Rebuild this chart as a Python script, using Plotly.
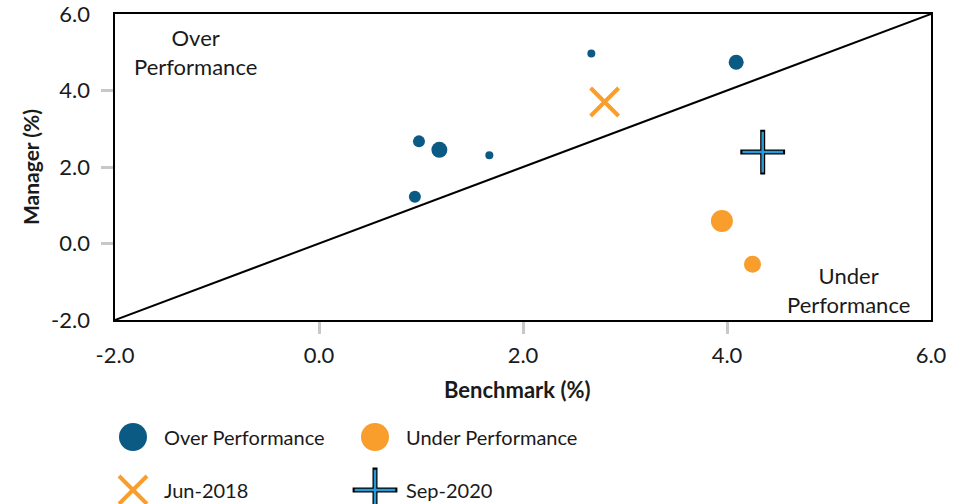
import plotly.graph_objects as go

FONT = "Lato"
BLUE = "#0A5A84"
ORANGE = "#F99D2C"
LIGHTBLUE = "#2A9AD6"
TXT = "#1a1a1a"

# Over performance points
over_x = [2.67, 4.09, 0.98, 1.18, 1.67, 0.94]
over_y = [4.97, 4.74, 2.67, 2.45, 2.31, 1.22]
over_size = [8, 15, 12, 16, 8, 12]

# Under performance points
under_x = [3.95, 4.25]
under_y = [0.59, -0.54]
under_size = [22, 17]

# Highlighted periods
jun_x, jun_y = [2.80], [3.70]
sep_x, sep_y = [4.35], [2.39]

diag = [-2, 6]
ticks_all = [-2, 0, 2, 4, 6]
ticks_inner = [0, 2, 4]
tick_text = ["-2.0", "0.0", "2.0", "4.0", "6.0"]

legend_labels = ["Over Performance", "Under Performance", "Jun-2018", "Sep-2020"]

fig = go.Figure()

fig.add_trace(go.Scatter(x=diag, y=diag, mode="lines",
                         line=dict(color="black", width=2), hoverinfo="skip"))
fig.add_trace(go.Scatter(x=over_x, y=over_y, mode="markers", name=legend_labels[0],
                         marker=dict(color=BLUE, size=over_size, opacity=1, line=dict(width=0))))
fig.add_trace(go.Scatter(x=under_x, y=under_y, mode="markers", name=legend_labels[1],
                         marker=dict(color=ORANGE, size=under_size, opacity=1, line=dict(width=0))))
fig.add_trace(go.Scatter(x=jun_x, y=jun_y, mode="markers", name=legend_labels[2],
                         marker=dict(symbol="x-thin-open", size=28, color=ORANGE,
                                     line=dict(color=ORANGE, width=4))))
fig.add_trace(go.Scatter(x=sep_x, y=sep_y, mode="markers", name=legend_labels[3],
                         marker=dict(symbol="cross-thin-open", size=32, color="black",
                                     line=dict(color="black", width=5))))
fig.add_trace(go.Scatter(x=sep_x, y=sep_y, mode="markers", showlegend=False,
                         marker=dict(symbol="cross-thin-open", size=29, color=LIGHTBLUE,
                                     line=dict(color=LIGHTBLUE, width=2.5))))

# label axis overlay (x2/y2) for tick labels at all values
fig.add_trace(go.Scatter(x=[None], y=[None], xaxis="x2", yaxis="y2", showlegend=False))

# custom legend drawn on a hidden full-figure axis (screen-pixel layout units)
leg_x = [133, 375]
leg_y = [437, 490]
fig.add_trace(go.Scatter(x=leg_x, y=[leg_y[0]] * 2, xaxis="x3", yaxis="y3", mode="markers",
                         marker=dict(color=[BLUE, ORANGE], size=28, opacity=1, line=dict(width=0)),
                         showlegend=False, hoverinfo="skip"))
fig.add_trace(go.Scatter(x=[leg_x[0]], y=[leg_y[1]], xaxis="x3", yaxis="y3", mode="markers",
                         marker=dict(symbol="x-thin-open", size=28, color=ORANGE,
                                     line=dict(color=ORANGE, width=4)),
                         showlegend=False, hoverinfo="skip"))
fig.add_trace(go.Scatter(x=[leg_x[1]], y=[leg_y[1]], xaxis="x3", yaxis="y3", mode="markers",
                         marker=dict(symbol="cross-thin-open", size=32, color="black",
                                     line=dict(color="black", width=5)),
                         showlegend=False, hoverinfo="skip"))
fig.add_trace(go.Scatter(x=[leg_x[1]], y=[leg_y[1]], xaxis="x3", yaxis="y3", mode="markers",
                         marker=dict(symbol="cross-thin-open", size=29, color=LIGHTBLUE,
                                     line=dict(color=LIGHTBLUE, width=2.5)),
                         showlegend=False, hoverinfo="skip"))

annotations = []
for i, lab in enumerate(legend_labels):
    annotations.append(dict(x=leg_x[i % 2] + 29, y=leg_y[i // 2], xref="x3", yref="y3",
                            text=lab, showarrow=False, xanchor="left", yanchor="middle",
                            font=dict(family=FONT, size=20, color=TXT)))
annotations += [
    dict(x=195, y=52, xref="x3", yref="y3", text="Over<br>Performance", showarrow=False,
         font=dict(family=FONT, size=22, color=TXT), align="center"),
    dict(x=848, y=290, xref="x3", yref="y3", text="Under<br>Performance", showarrow=False,
         font=dict(family=FONT, size=22, color=TXT), align="center"),
    dict(x=517, y=389, xref="x3", yref="y3", text="<b>Benchmark (%)</b>", showarrow=False,
         font=dict(family=FONT, size=22, color=TXT)),
    dict(x=30, y=167, xref="x3", yref="y3", text="<b>Manager (%)</b>", showarrow=False,
         textangle=-90, font=dict(family=FONT, size=21, color=TXT)),
]

W, H = 962, 504
xd = [115 / W, 931 / W]
yd = [(H - 320) / H, (H - 14) / H]

axis_common = dict(range=[-2, 6], showgrid=False, zeroline=False, automargin=False)

fig.update_layout(
    width=W, height=H,
    margin=dict(l=0, r=0, t=0, b=0, autoexpand=False),
    paper_bgcolor="white", plot_bgcolor="rgba(0,0,0,0)",
    showlegend=False,
    font=dict(family=FONT, size=22, color=TXT),
    annotations=annotations,
    xaxis=dict(domain=xd, tickvals=ticks_inner, showticklabels=False,
               ticks="outside", ticklen=12, tickwidth=3, tickcolor="#C8C8C8",
               showline=True, mirror=True, linecolor="black", linewidth=2, **axis_common),
    yaxis=dict(domain=yd, tickvals=ticks_inner, showticklabels=False,
               ticks="outside", ticklen=12, tickwidth=3, tickcolor="#C8C8C8",
               showline=True, mirror=True, linecolor="black", linewidth=2, **axis_common),
    xaxis2=dict(domain=xd, overlaying="x", anchor="y2", side="bottom",
                tickvals=ticks_all, ticktext=tick_text, ticks="",
                showline=False, ticklabelstandoff=20, ticklabeloverflow="allow",
                tickfont=dict(size=22, color=TXT), **axis_common),
    yaxis2=dict(domain=yd, overlaying="y", anchor="x2", side="left",
                tickvals=ticks_all, ticktext=tick_text, ticks="",
                showline=False, ticklabelstandoff=24, ticklabeloverflow="allow",
                tickfont=dict(size=22, color=TXT), **axis_common),
    xaxis3=dict(domain=[0, 1], range=[0, W], visible=False, anchor="y3", automargin=False),
    yaxis3=dict(domain=[0, 1], range=[H, 0], visible=False, anchor="x3", automargin=False),
)

# remove the page's default body margin so the figure sits at the window origin
fig.write_html("out.html", config={"displayModeBar": False},
               post_script="document.body.style.margin='0';")
